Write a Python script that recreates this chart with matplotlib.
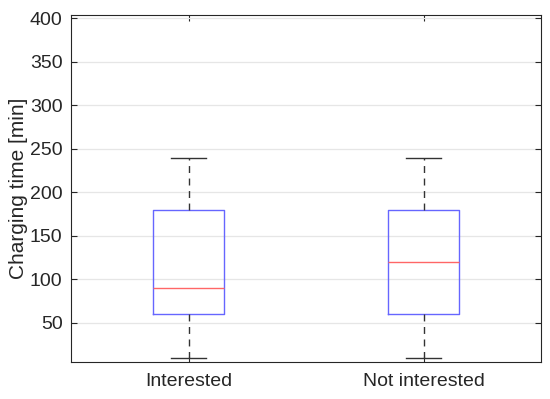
import numpy as np
import matplotlib.pyplot as plt

plt.rcParams['font.family'] = ['Liberation Sans', 'DejaVu Sans']

groups = ['Interested', 'Not interested']
whisker_low = [10, 10]
q1 = [60, 60]
medians = [90, 120]
q3 = [180, 180]
whisker_high = [240, 240]

stats = []
for i, name in enumerate(groups):
    stats.append({'label': name, 'whislo': whisker_low[i], 'q1': q1[i],
                  'med': medians[i], 'q3': q3[i], 'whishi': whisker_high[i],
                  'fliers': []})

fig = plt.figure(figsize=(5.5, 3.99), dpi=100)
ax = fig.add_axes([0.129, 0.0927, 0.855, 0.869])

ax.bxp(stats, positions=[1, 2], widths=0.3, showfliers=False,
       boxprops=dict(color='#6666ff', linewidth=1.0),
       medianprops=dict(color='#ff6666', linewidth=1.0),
       whiskerprops=dict(color='#333333', linewidth=1.0, linestyle=(0, (5, 4))),
       capprops=dict(color='#333333', linewidth=1.0), capwidths=0.15)

ax.set_xlim(0.5, 2.5)
ax.set_ylim(5, 403.5)
ax.set_yticks([50, 100, 150, 200, 250, 300, 350, 400])
ax.yaxis.grid(True, color='#e6e6e6', linewidth=0.9)
ax.set_axisbelow(True)
ax.tick_params(direction='in', top=True, right=True, labelsize=14,
               colors='#262626', length=4, width=0.8)
ax.tick_params(axis='y', pad=6)
ax.tick_params(axis='x', pad=8)
for s in ax.spines.values():
    s.set_color('#262626')
    s.set_linewidth(0.8)
ax.set_ylabel('Charging time [min]', fontsize=15, color='#262626', labelpad=1)

fig.savefig('out.png', dpi=100)
